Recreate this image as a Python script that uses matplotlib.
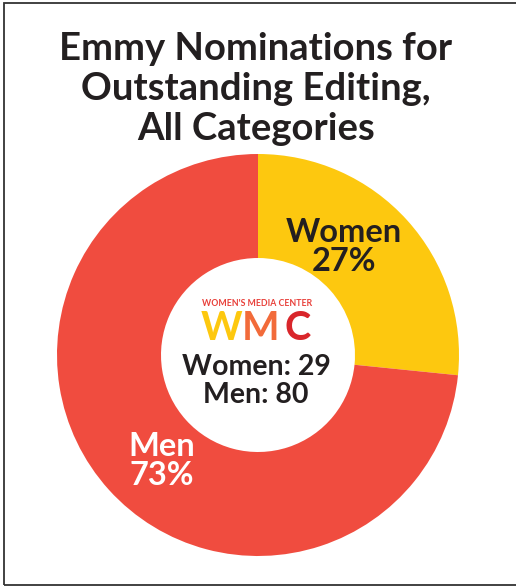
import matplotlib
matplotlib.use('Agg')
import matplotlib.pyplot as plt
from matplotlib.patches import Rectangle

# data
labels = ['Women', 'Men']
counts = [29, 80]
colors = ['#fdc80f', '#f04c3f']

total = sum(counts)
pcts = [round(c * 100 / total) for c in counts]

plt.rcParams['font.family'] = ['Lato', 'DejaVu Sans']
dark = '#231f20'

fig = plt.figure(figsize=(5.16, 5.87), dpi=100)
ax = fig.add_axes([0, 0, 1, 1])

# frame
ax.add_patch(Rectangle((3.5, 2), 540, 582, fill=False, lw=1.3, ec='#333333'))

# donut
cx, cy, r = 258, 232, 201
ax.pie(counts, colors=colors, startangle=90, counterclock=False,
       center=(cx, cy), radius=r, frame=True,
       wedgeprops=dict(width=104, linewidth=0))
ax.set_xlim(0, 516)
ax.set_ylim(0, 587)
ax.set_aspect('equal')
ax.axis('off')

# title
ax.text(256, 498, 'Emmy Nominations for\nOutstanding Editing,\nAll Categories',
        ha='center', va='center', fontsize=27.5, fontweight='bold',
        color=dark, linespacing=1.2)

# slice labels
ax.text(344, 340, '%s\n%d%%' % (labels[0], pcts[0]), ha='center', va='center',
        fontsize=23.5, fontweight='bold', color=dark, linespacing=1.02)
ax.text(162, 126, '%s\n%d%%' % (labels[1], pcts[1]), ha='center', va='center',
        fontsize=23.5, fontweight='bold', color='white', linespacing=1.02)

# center counts
ax.text(256, 206, '%s: %d\n%s: %d' % (labels[0], counts[0], labels[1], counts[1]),
        ha='center', va='center', fontsize=20.5, fontweight='bold', color=dark,
        linespacing=1.05)

# logo
ax.text(257, 283, "WOMEN'S MEDIA CENTER", ha='center', va='center',
        fontsize=6.3, fontweight='bold', color='#e8403a')
ax.text(221, 259, 'W', ha='center', va='center', fontsize=28.5,
        fontweight='bold', color='#fdc80f')
ax.text(261, 259, 'M', ha='center', va='center', fontsize=28.5,
        fontweight='bold', color='#f26b3a')
ax.text(298, 259, 'C', ha='center', va='center', fontsize=28.5,
        fontweight='bold', color='#d9262b')

fig.savefig('out.png', dpi=100)
